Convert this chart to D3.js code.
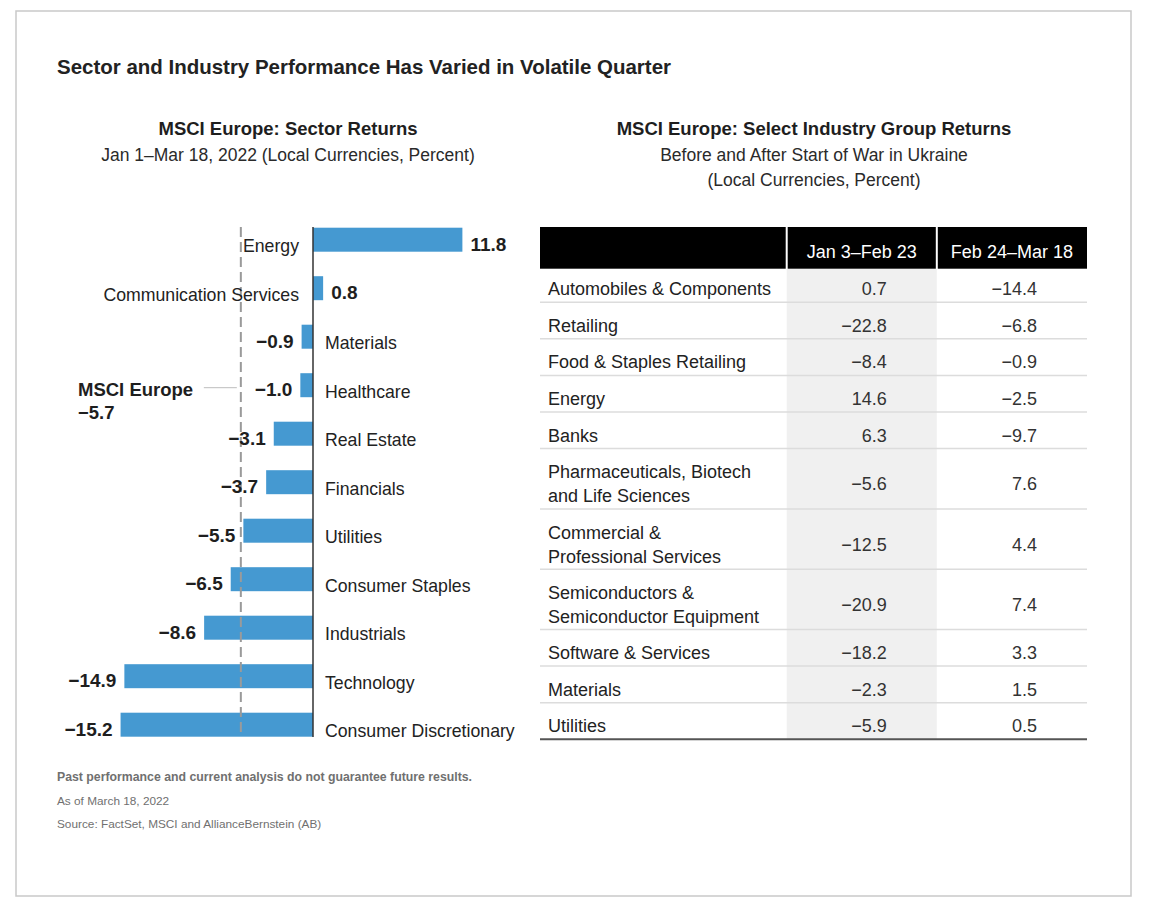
<!DOCTYPE html>
<html>
<head>
<meta charset="utf-8">
<script src="https://cdn.jsdelivr.net/npm/d3@7"></script>
<style>
  html, body { margin: 0; padding: 0; background: #fff; }
  svg { display: block; }
  text { font-family: "Liberation Sans", Arial, sans-serif; }
</style>
</head>
<body>
<svg id="chart" width="1150" height="910"></svg>
<script>
// ---------------- DATA ----------------
const sectors = ["Energy", "Communication Services", "Materials", "Healthcare", "Real Estate",
  "Financials", "Utilities", "Consumer Staples", "Industrials", "Technology", "Consumer Discretionary"];
const sectorReturns = [11.8, 0.8, -0.9, -1.0, -3.1, -3.7, -5.5, -6.5, -8.6, -14.9, -15.2];
const benchmarkName = "MSCI Europe";
const benchmarkReturn = -5.7;

const industries = ["Automobiles & Components", "Retailing", "Food & Staples Retailing", "Energy", "Banks",
  "Pharmaceuticals, Biotech\nand Life Sciences", "Commercial &\nProfessional Services",
  "Semiconductors &\nSemiconductor Equipment", "Software & Services", "Materials", "Utilities"];
const periods = ["Jan 3\u2013Feb 23", "Feb 24\u2013Mar 18"];
const beforeWar = [0.7, -22.8, -8.4, 14.6, 6.3, -5.6, -12.5, -20.9, -18.2, -2.3, -5.9];
const afterWar = [-14.4, -6.8, -0.9, -2.5, -9.7, 7.6, 4.4, 7.4, 3.3, 1.5, 0.5];

const titleText = "Sector and Industry Performance Has Varied in Volatile Quarter";
const leftTitle = ["MSCI Europe: Sector Returns", "Jan 1\u2013Mar 18, 2022 (Local Currencies, Percent)"];
const rightTitle = ["MSCI Europe: Select Industry Group Returns", "Before and After Start of War in Ukraine", "(Local Currencies, Percent)"];
const notes = ["Past performance and current analysis do not guarantee future results.",
  "As of March 18, 2022", "Source: FactSet, MSCI and AllianceBernstein (AB)"];

// ---------------- DRAW ----------------
const svg = d3.select("#chart");
const fmt = d3.format(".1f");
const ink = "#1e1e1e";

// frame
svg.append("rect").attr("x", 16).attr("y", 11).attr("width", 1115).attr("height", 885)
  .attr("fill", "none").attr("stroke", "#c9c9c9").attr("stroke-width", 1.5);

// main title
svg.append("text").attr("x", 57).attr("y", 73.5)
  .attr("font-size", 20.5).attr("font-weight", "bold").attr("fill", "#222")
  .attr("textLength", 614).attr("lengthAdjust", "spacingAndGlyphs")
  .text(titleText);

// left titles
svg.append("text").attr("x", 288).attr("y", 135).attr("text-anchor", "middle")
  .attr("font-size", 18.5).attr("font-weight", "bold").attr("fill", ink).text(leftTitle[0]);
svg.append("text").attr("x", 288).attr("y", 160.5).attr("text-anchor", "middle")
  .attr("font-size", 17.5).attr("fill", "#2a2a2a").text(leftTitle[1]);

// right titles
svg.append("text").attr("x", 814).attr("y", 135).attr("text-anchor", "middle")
  .attr("font-size", 18.5).attr("font-weight", "bold").attr("fill", ink).text(rightTitle[0]);
rightTitle.slice(1).forEach((t, i) => {
  svg.append("text").attr("x", 814).attr("y", 160.5 + i * 25.5).attr("text-anchor", "middle")
    .attr("font-size", 17.5).attr("fill", "#2a2a2a").text(t);
});

// ---------- bar chart ----------
const x = d3.scaleLinear().domain([-16, 12]).range([313 - 16 * 12.66, 313 + 12 * 12.66]);
const y = d3.scalePoint().domain(sectors).range([239.7, 724.7]);
const barH = 24;
const data = sectors.map((s, i) => ({ s, v: sectorReturns[i] }));

const g = svg.append("g");
g.selectAll("rect.bar").data(data).join("rect").attr("class", "bar")
  .attr("x", d => x(Math.min(0, d.v)))
  .attr("y", d => y(d.s) - barH / 2)
  .attr("width", d => Math.abs(x(d.v) - x(0)))
  .attr("height", barH)
  .attr("fill", "#4599d1");

// zero axis
g.append("line").attr("x1", x(0)).attr("x2", x(0)).attr("y1", 227).attr("y2", 737)
  .attr("stroke", "#333").attr("stroke-width", 1.5);

// benchmark dashed line
const bx = x(benchmarkReturn);
g.append("line").attr("x1", bx).attr("x2", bx).attr("y1", 227).attr("y2", 733)
  .attr("stroke", "#9a9a9a").attr("stroke-width", 2).attr("stroke-dasharray", "10,5");

// benchmark annotation
const annY = y("Healthcare") + 2.5;
g.append("line").attr("x1", bx - 37).attr("x2", bx - 4).attr("y1", annY).attr("y2", annY)
  .attr("stroke", "#bdbdbd").attr("stroke-width", 1);
g.append("text").attr("x", 78).attr("y", annY + 8).attr("font-size", 18.5).attr("font-weight", "bold")
  .attr("fill", ink).text(benchmarkName);
g.append("text").attr("x", 78).attr("y", annY + 31.5).attr("font-size", 18.5).attr("font-weight", "bold")
  .attr("fill", ink).text(fmt(benchmarkReturn));

// category labels
g.selectAll("text.cat").data(data).join("text").attr("class", "cat")
  .attr("x", d => d.v >= 0 ? x(0) - 14 : x(0) + 12)
  .attr("y", d => y(d.s) + 12.5)
  .attr("text-anchor", d => d.v >= 0 ? "end" : "start")
  .attr("font-size", 17.7).attr("fill", "#222")
  .text(d => d.s);

// value labels
g.selectAll("text.val").data(data).join("text").attr("class", "val")
  .attr("x", d => d.v >= 0 ? x(d.v) + 8 : x(d.v) - 8)
  .attr("y", d => y(d.s) + 11)
  .attr("text-anchor", d => d.v >= 0 ? "start" : "end")
  .attr("font-size", 19).attr("font-weight", "bold").attr("fill", ink)
  .text(d => fmt(d.v));

// footnotes
svg.append("text").attr("x", 57).attr("y", 781).attr("font-size", 12).attr("font-weight", "bold")
  .attr("fill", "#707070").attr("textLength", 415).attr("lengthAdjust", "spacingAndGlyphs").text(notes[0]);
notes.slice(1).forEach((t, i) => {
  svg.append("text").attr("x", 57).attr("y", 805 + i * 23).attr("font-size", 11.8).attr("fill", "#707070").text(t);
});

// ---------- table ----------
const tLeft = 540, tRight = 1087;
const colEdges = [tLeft, 786.7, 936.8, tRight];
const headTop = 227, headBottom = 268.7;
const rows = industries.map((name, i) => ({ lines: name.split("\n"), a: beforeWar[i], b: afterWar[i] }));
// row geometry
let cursor = headBottom;
rows.forEach((r, i) => {
  const h = r.lines.length > 1 ? 60.3 : (i === 0 ? 33.5 : 36.6);
  r.top = cursor; r.bottom = cursor + h; r.mid = cursor + h / 2;
  r.base = r.lines.length > 1 ? r.mid + 11.5 : r.bottom - 7;
  cursor += h;
});
const tBottom = cursor;

const t = svg.append("g");
// shaded column
t.append("rect").attr("x", colEdges[1]).attr("y", headBottom)
  .attr("width", colEdges[2] - colEdges[1]).attr("height", tBottom - headBottom)
  .attr("fill", "#f0f0f0");
// header cells
[0, 1, 2].forEach(c => {
  const x0 = colEdges[c] + (c > 0 ? 1 : 0), x1 = colEdges[c + 1] - (c < 2 ? 1 : 0);
  t.append("rect").attr("x", x0).attr("y", headTop).attr("width", x1 - x0).attr("height", headBottom - headTop)
    .attr("fill", "#000");
});
periods.forEach((p, i) => {
  t.append("text").attr("x", (colEdges[i + 1] + colEdges[i + 2]) / 2).attr("y", 258)
    .attr("text-anchor", "middle").attr("font-size", 18).attr("fill", "#fff").text(p);
});
// separators
rows.forEach((r, i) => {
  if (i < rows.length - 1) {
    t.append("line").attr("x1", tLeft).attr("x2", tRight).attr("y1", r.bottom).attr("y2", r.bottom)
      .attr("stroke", "#dcdcdc").attr("stroke-width", 1.5);
  }
});
t.append("line").attr("x1", tLeft).attr("x2", tRight).attr("y1", tBottom).attr("y2", tBottom)
  .attr("stroke", "#555").attr("stroke-width", 2);

// row text
rows.forEach(r => {
  const n = r.lines.length;
  r.lines.forEach((ln, j) => {
    t.append("text").attr("x", 548).attr("y", r.base + (j - (n - 1) / 2) * 24)
      .attr("font-size", 18).attr("fill", "#222").text(ln);
  });
  t.append("text").attr("x", colEdges[2] - 50).attr("y", r.base).attr("text-anchor", "end")
    .attr("font-size", 18).attr("fill", "#333").text(fmt(r.a));
  t.append("text").attr("x", colEdges[3] - 50).attr("y", r.base).attr("text-anchor", "end")
    .attr("font-size", 18).attr("fill", "#333").text(fmt(r.b));
});
</script>
</body>
</html>
